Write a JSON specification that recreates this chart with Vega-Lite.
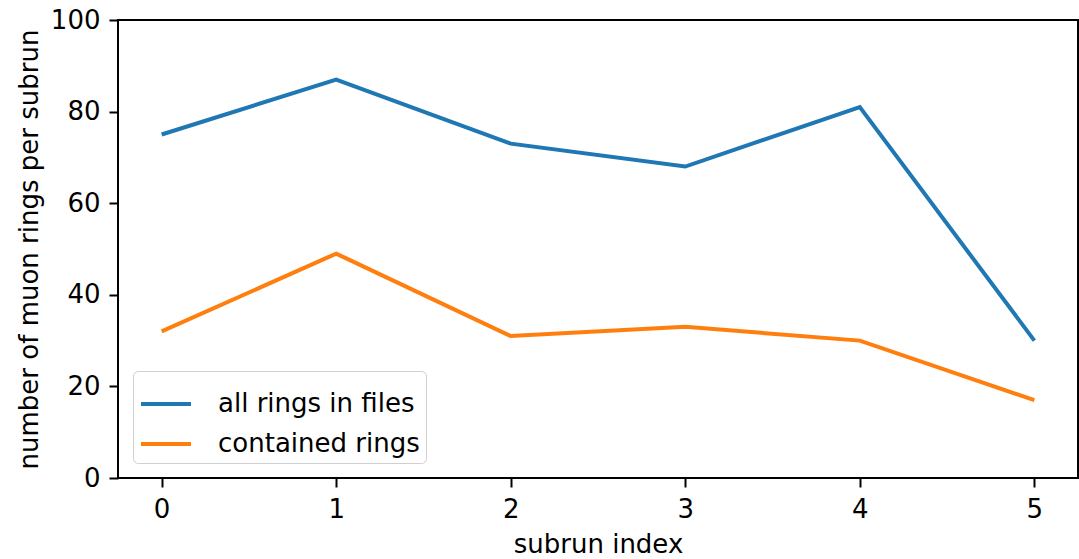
{
  "$schema": "https://vega.github.io/schema/vega-lite/v6.json",
  "autosize": "none",
  "width": 960,
  "height": 458,
  "padding": {"left": 118, "top": 20, "right": 1, "bottom": 81},
  "background": "white",
  "config": {
    "font": "DejaVu Sans",
    "view": {"stroke": "black", "strokeWidth": 2},
    "axis": {
      "grid": false,
      "domain": false,
      "tickColor": "black",
      "tickWidth": 2,
      "tickSize": 9,
      "labelFontSize": 26,
      "labelColor": "black",
      "labelFont": "DejaVu Sans",
      "titleFontSize": 26,
      "titleFont": "DejaVu Sans",
      "titleFontWeight": "normal",
      "titleColor": "black",
      "labelPadding": 9
    }
  },
  "data": {
    "values": [
      {"subrun": 0, "count": 75, "series": "all rings in files"},
      {"subrun": 1, "count": 87, "series": "all rings in files"},
      {"subrun": 2, "count": 73, "series": "all rings in files"},
      {"subrun": 3, "count": 68, "series": "all rings in files"},
      {"subrun": 4, "count": 81, "series": "all rings in files"},
      {"subrun": 5, "count": 30, "series": "all rings in files"},
      {"subrun": 0, "count": 32, "series": "contained rings"},
      {"subrun": 1, "count": 49, "series": "contained rings"},
      {"subrun": 2, "count": 31, "series": "contained rings"},
      {"subrun": 3, "count": 33, "series": "contained rings"},
      {"subrun": 4, "count": 30, "series": "contained rings"},
      {"subrun": 5, "count": 17, "series": "contained rings"}
    ]
  },
  "mark": {"type": "line", "strokeWidth": 4, "clip": true},
  "encoding": {
    "x": {
      "field": "subrun",
      "type": "quantitative",
      "scale": {"domain": [-0.25, 5.25], "nice": false, "zero": false},
      "axis": {"values": [0, 1, 2, 3, 4, 5], "format": "d", "title": "subrun index", "titlePadding": 9}
    },
    "y": {
      "field": "count",
      "type": "quantitative",
      "scale": {"domain": [0, 100], "nice": false},
      "axis": {"values": [0, 20, 40, 60, 80, 100], "format": "d", "title": "number of muon rings per subrun", "titlePadding": 8}
    },
    "color": {
      "field": "series",
      "type": "nominal",
      "scale": {"domain": ["all rings in files", "contained rings"], "range": ["#1f77b4", "#ff7f0e"]},
      "legend": {
        "title": null,
        "orient": "bottom-left",
        "offset": 15,
        "symbolType": "stroke",
        "symbolSize": 2500,
        "symbolStrokeWidth": 4,
        "labelFontSize": 26,
        "labelFont": "DejaVu Sans",
        "labelColor": "black",
        "labelLimit": 500,
        "strokeColor": "#d0d0d0",
        "fillColor": "white",
        "padding": 6,
        "cornerRadius": 5,
        "rowPadding": 0,
        "labelOffset": 25
      }
    }
  }
}
